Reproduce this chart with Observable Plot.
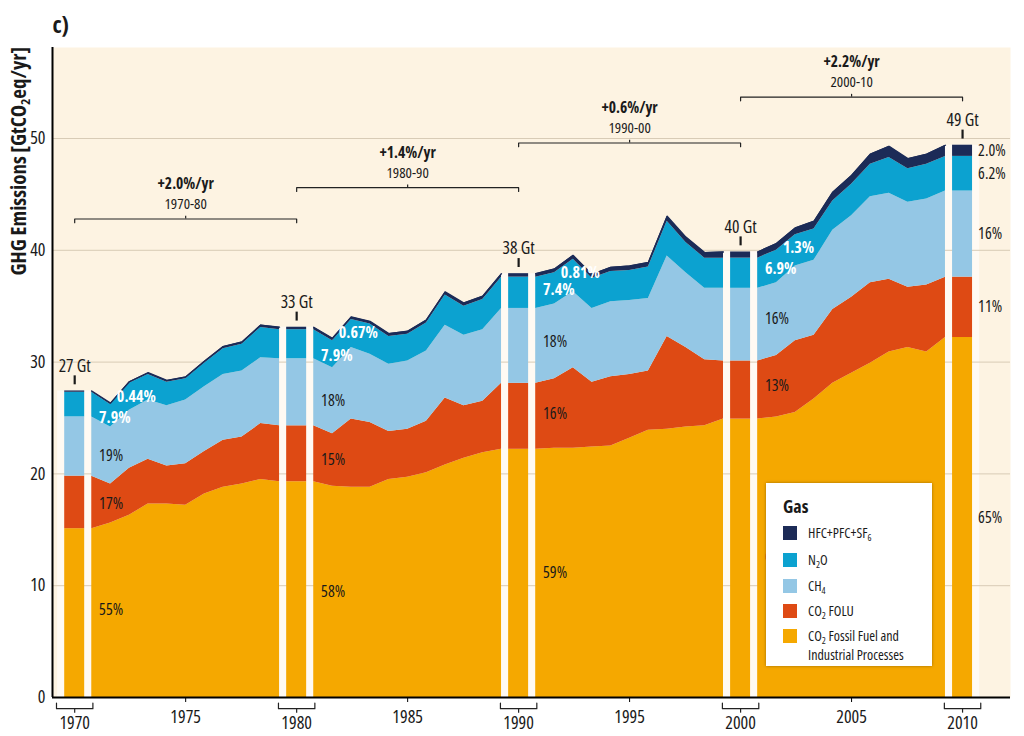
<!DOCTYPE html>
<html>
<head>
<meta charset="utf-8">
<script src="https://cdn.jsdelivr.net/npm/d3@7"></script>
<script src="https://cdn.jsdelivr.net/npm/@observablehq/plot@0.6"></script>
<style>
  html, body { margin: 0; padding: 0; background: #ffffff; }
  #wrap { position: relative; width: 1024px; height: 736px; overflow: hidden; font-family: "Open Sans", sans-serif; font-stretch: 80%; }
  #wrap svg, #wrap svg text { font-stretch: 80%; }
  #legend { position: absolute; left: 766px; top: 483px; width: 166px; height: 183px; background: #fff; box-shadow: 0 0 3px rgba(0,0,0,0.35); color: #1a1a1a; font-size: 14px; }
  #legend .title { position: absolute; left: 17px; top: 12px; height: 22px; font-weight: bold; font-size: 18px; line-height: 22px; }
  #legend .row { position: absolute; left: 17px; height: 17px; line-height: 17px; white-space: nowrap; }
  #legend .sw { position: absolute; left: 0; top: 2px; width: 14px; height: 14px; }
  #legend .lab { position: absolute; display: block; left: 25px; top: 0; height: 17px; line-height: 17px; }
  sub { font-size: 9.5px; vertical-align: -3px; line-height: 0; }
</style>
</head>
<body>
<div id="wrap"></div>
<script>
// ---------------- data ----------------
const years = d3.range(1970, 2011);
const co2Fossil = [15.1, 15.6, 16.3, 17.3, 17.3, 17.2, 18.2, 18.8, 19.1, 19.5,
                   19.3, 18.9, 18.8, 18.8, 19.5, 19.7, 20.1, 20.8, 21.4, 21.9,
                   22.2, 22.3, 22.3, 22.4, 22.5, 23.2, 23.9, 24.0, 24.2, 24.3,
                   24.9, 25.1, 25.5, 26.7, 28.1, 29.0, 29.9, 30.9, 31.3, 30.9, 32.2];
const co2Folu   = [4.7, 3.5, 4.2, 4.0, 3.4, 3.7, 3.8, 4.2, 4.2, 5.0,
                   5.0, 4.7, 6.1, 5.8, 4.3, 4.3, 4.6, 6.0, 4.7, 4.6,
                   5.9, 6.2, 7.2, 5.8, 6.2, 5.7, 5.3, 8.3, 7.1, 5.9,
                   5.2, 5.5, 6.4, 5.7, 6.6, 6.8, 7.2, 6.5, 5.4, 6.0, 5.4];
const ch4       = [5.3, 5.1, 5.2, 5.3, 5.4, 5.7, 5.8, 5.9, 5.9, 5.9,
                   6.0, 5.9, 6.4, 6.1, 6.0, 6.1, 6.3, 6.5, 6.3, 6.4,
                   6.7, 6.7, 6.8, 6.6, 6.7, 6.6, 6.5, 7.2, 6.7, 6.4,
                   6.5, 6.5, 6.7, 6.7, 7.1, 7.3, 7.7, 7.7, 7.6, 7.7, 7.7];
const n2o       = [2.2, 2.0, 2.4, 2.3, 2.1, 1.9, 2.1, 2.3, 2.4, 2.7,
                   2.6, 2.4, 2.5, 2.7, 2.5, 2.4, 2.5, 2.7, 2.6, 2.7,
                   2.8, 2.8, 2.9, 2.7, 2.7, 2.7, 2.8, 3.1, 2.7, 2.7,
                   2.7, 2.9, 2.8, 2.8, 2.6, 2.8, 2.9, 3.2, 3.0, 3.1, 3.1];
const fgases    = [0.12, 0.13, 0.14, 0.15, 0.16, 0.17, 0.18, 0.19, 0.20, 0.21,
                   0.22, 0.23, 0.24, 0.24, 0.25, 0.26, 0.27, 0.28, 0.29, 0.30,
                   0.31, 0.33, 0.35, 0.35, 0.38, 0.40, 0.42, 0.45, 0.48, 0.50,
                   0.55, 0.60, 0.60, 0.70, 0.80, 0.80, 0.90, 1.00, 0.90, 0.90, 1.00];

const gasKeys = ["CO2 Fossil Fuel and Industrial Processes", "CO2 FOLU", "CH4", "N2O", "HFC+PFC+SF6"];
const gasLegendLines = [["CO<sub>2</sub> Fossil Fuel and", "Industrial Processes"], ["CO<sub>2</sub> FOLU"], ["CH<sub>4</sub>"], ["N<sub>2</sub>O"], ["HFC+PFC+SF<sub>6</sub>"]];
const gasColors = ["#f5a800", "#de4a14", "#94c7e5", "#0ca2d0", "#1c2b57"];

const decades = [1970, 1980, 1990, 2000, 2010];
const totalLabels = [27, 33, 38, 40, 49];
const shareFossil = ["55%", "58%", "59%", "62%", "65%"];
const shareFolu   = ["17%", "15%", "16%", "13%", "11%"];
const shareCH4    = ["19%", "18%", "18%", "16%", "16%"];
const shareN2O    = ["7.9%", "7.9%", "7.4%", "6.9%", "6.2%"];
const shareF      = ["0.44%", "0.67%", "0.81%", "1.3%", "2.0%"];
const growthRates   = ["+2.0%/yr", "+1.4%/yr", "+0.6%/yr", "+2.2%/yr"];
const growthPeriods = ["1970-80", "1980-90", "1990-00", "2000-10"];
const yTicks = [0, 10, 20, 30, 40, 50];
const midTicks = [1975, 1985, 1995, 2005];

// ---------------- layout ----------------
const GAP = 0.77;      // gap (in years) between a decade bar centre and the area segment
const HALF = 0.45;     // half width of a decade bar
const braceLevels = [42.8, 45.6, 49.6, 53.7];
const FONT = '"Open Sans", sans-serif';
const INK = "#1a1a1a";

// ---------------- derived tables ----------------
const series = [co2Fossil, co2Folu, ch4, n2o, fgases];
const segStarts = decades.slice(0, -1);
const disp = (year, s) => s + GAP + (year - s) * (10 - 2 * GAP) / 10;

const areaRows = [];
const topRows = [];
segStarts.forEach(s => {
  years.filter(y => y >= s && y <= s + 10).forEach(y => {
    const i = y - 1970;
    let tot = 0;
    gasKeys.forEach((g, k) => {
      areaRows.push({seg: s, xd: disp(y, s), gas: g, value: series[k][i]});
      tot += series[k][i];
    });
    topRows.push({seg: s, xd: disp(y, s), total: tot});
  });
});
const cum = year => {
  const i = year - 1970; let c = 0;
  return series.map(arr => { const lo = c; c += arr[i]; return [lo, c]; });
};
const barRows = decades.flatMap(D => gasKeys.map((g, k) => ({D, gas: g, value: series[k][D - 1970]})));
const decadeRows = decades.map((D, j) => ({D, total: cum(D)[4][1], label: totalLabels[j] + " Gt"}));
const shares = [shareFossil, shareFolu, shareCH4, shareN2O, shareF];

const darkLabels = [], n2oLabels = [], fLabels = [];
decades.forEach((D, j) => {
  if (D < 2010) {
    const c1 = cum(D + 1), c2 = cum(D + 2);
    [0, 1, 2].forEach(k => darkLabels.push({x: D + 1.1, y: (c1[k][0] + c1[k][1]) / 2, text: shares[k][j]}));
    n2oLabels.push({x: D + 1.1, y: (c1[3][0] + c1[3][1]) / 2, text: shares[3][j]});
    fLabels.push({x: D + 1.9, y: c2[3][1] - 1.2, text: shares[4][j]});
  } else {
    const c = cum(D);
    [0, 1, 2, 3, 4].forEach(k => darkLabels.push({x: D + 0.7, y: (c[k][0] + c[k][1]) / 2, text: shares[k][j]}));
  }
});

const braceRows = segStarts.flatMap((D, k) => {
  const L = braceLevels[k];
  return [{k, x: D, y: L - 0.33}, {k, x: D, y: L}, {k, x: D + 10, y: L}, {k, x: D + 10, y: L - 0.33}];
});
const braceTicks = segStarts.map((D, k) => ({x: D + 5, y1: braceLevels[k], y2: braceLevels[k] + 0.25}));
const braceText = segStarts.map((D, k) => ({x: D + 5, L: braceLevels[k], rate: growthRates[k], period: growthPeriods[k]}));

const bracketRows = decades.flatMap(D => [
  {D, x: D - 0.82, y: -0.5}, {D, x: D - 0.82, y: -1.0}, {D, x: D + 0.82, y: -1.0}, {D, x: D + 0.82, y: -0.5}
]);

// ---------------- chart ----------------
const marks = [
  Plot.frame({fill: "#fdf3e2", stroke: "none"}),
  Plot.rectY(decadeRows, {x1: d => d.D - GAP, x2: d => d.D + GAP, y: "total", fill: "#fffaf3"}),
  Plot.ruleY(yTicks.filter(v => v > 0), {stroke: "#d8cbb6", strokeWidth: 1}),
  ...segStarts.map(s => Plot.areaY(areaRows.filter(r => r.seg === s), {x: "xd", y: "value", z: "gas", fill: "gas"})),
  Plot.lineY(topRows, {x: "xd", y: "total", z: "seg", stroke: gasColors[4], strokeWidth: 1.3}),
  Plot.rectY(barRows, {x1: d => d.D - HALF, x2: d => d.D + HALF, y: "value", fill: "gas"}),
  // axes
  Plot.ruleX([1969.0], {stroke: "#000", strokeWidth: 2}),
  Plot.ruleY([0], {stroke: "#000", strokeWidth: 2}),
  Plot.axisY(yTicks, {tickSize: 0, tickPadding: 7, fontSize: 18, label: null, tickFormat: "d"}),
  Plot.axisX(midTicks, {tickSize: 5, tickPadding: 8, fontSize: 18, label: null, tickFormat: "d", stroke: "#000"}),
  Plot.axisX(decades, {tickSize: 0, tickPadding: 19, fontSize: 18, label: null, tickFormat: "d"}),
  Plot.line(bracketRows, {x: "x", y: "y", z: "D", stroke: "#222", strokeWidth: 1.2}),
  Plot.ruleX(decades, {x: d => d, y1: -1.0, y2: -1.4, stroke: "#222", strokeWidth: 1.2}),
  // growth braces
  Plot.line(braceRows, {x: "x", y: "y", z: "k", stroke: "#222", strokeWidth: 1.2}),
  Plot.ruleX(braceTicks, {x: "x", y1: "y1", y2: "y2", stroke: "#222", strokeWidth: 1.2}),
  Plot.text(braceText, {x: "x", y: d => d.L + 3.1, text: "rate", fontSize: 15.5, fontWeight: "bold", fill: INK}),
  Plot.text(braceText, {x: "x", y: d => d.L + 1.3, text: "period", fontSize: 15, fill: INK}),
  // totals above bars
  Plot.ruleX(decadeRows, {x: "D", y1: d => d.total + 0.55, y2: d => d.total + 1.35, stroke: INK, strokeWidth: 2.2}),
  Plot.text(decadeRows, {x: "D", y: "total", dy: -25, text: "label", fontSize: 17.5, fill: INK}),
  // share labels
  Plot.text(darkLabels, {x: "x", y: "y", text: "text", textAnchor: "start", fontSize: 16, fill: INK}),
  Plot.text(n2oLabels, {x: "x", y: "y", dy: 2, text: "text", textAnchor: "start", fontSize: 16, fontWeight: "bold", fill: "#ffffff"}),
  Plot.text(fLabels, {x: "x", y: "y", text: "text", textAnchor: "start", fontSize: 16, fontWeight: "bold", fill: "#ffffff"}),
  // panel letter
  Plot.text(["c)"], {frameAnchor: "top-left", dy: -22, lineAnchor: "middle", textAnchor: "start", fontSize: 23, fontWeight: "bold", fill: INK})
];

const chart = Plot.plot({
  width: 1024, height: 736,
  marginLeft: 52, marginRight: 14, marginTop: 47, marginBottom: 39,
  x: {domain: [1969.0, 2012.16]},
  y: {domain: [0, 58.14]},
  color: {domain: gasKeys, range: gasColors},
  style: {fontFamily: FONT, color: INK, background: "transparent", overflow: "visible"},
  marks
});

// y-axis title with subscript
const svg = d3.select(chart);
const yl = svg.append("text")
  .attr("transform", "translate(26,47) rotate(-90)")
  .attr("text-anchor", "end")
  .attr("font-family", FONT)
  .attr("font-weight", "bold")
  .attr("font-size", 21)
  .attr("fill", INK);
yl.append("tspan").text("GHG Emissions [GtCO");
yl.append("tspan").attr("font-size", 13).attr("dy", 4).text("2");
yl.append("tspan").attr("dy", -4).text("eq/yr]");

const wrap = document.getElementById("wrap");
wrap.appendChild(chart);

// legend
const legend = document.createElement("div");
legend.id = "legend";
let html = '<div class="title">Gas</div>';
const rowTops = [41, 68, 94, 119, 144];
[4, 3, 2, 1, 0].forEach((k, r) => {
  html += `<div class="row" style="top:${rowTops[r]}px"><span class="sw" style="background:${gasColors[k]}"></span><span class="lab">${gasLegendLines[k][0]}</span></div>`;
  if (gasLegendLines[k][1]) {
    html += `<div class="row" style="top:${rowTops[r] + 19}px"><span class="lab">${gasLegendLines[k][1]}</span></div>`;
  }
});
legend.innerHTML = html;
wrap.appendChild(legend);
</script>
</body>
</html>
